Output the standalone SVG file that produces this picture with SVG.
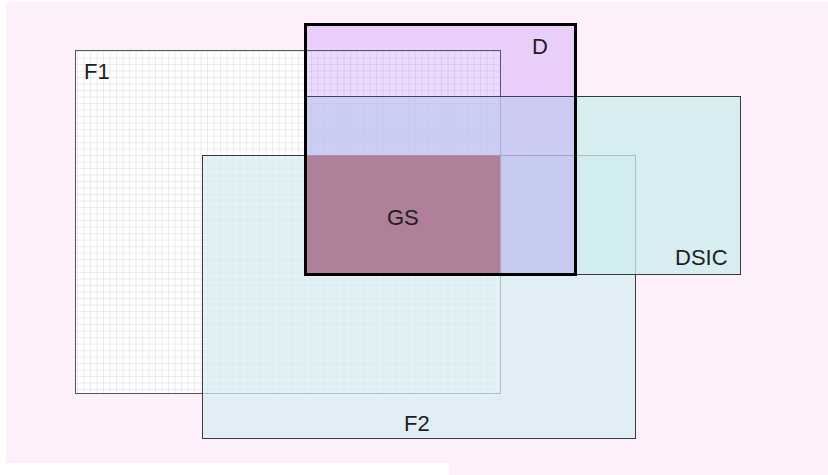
<svg xmlns="http://www.w3.org/2000/svg" width="828" height="475" viewBox="0 0 828 475">
  <style>
    .lbl { font-family: "Liberation Sans", Arial, sans-serif; font-size: 22px; fill: #1e1e1e; }
  </style>
  <defs>
    <!-- fine squared grid for F1 -->
    <pattern id="grid" width="6.5" height="6.5" patternUnits="userSpaceOnUse">
      <rect width="6.5" height="6.5" fill="#ffffff"/>
      <path d="M6.5 0 V6.5 M0 6.5 H6.5" stroke="#cfcfd8" stroke-width="0.8" fill="none"/>
    </pattern>
    <!-- dotted texture for DSIC -->
    <pattern id="dots" width="4" height="4" patternUnits="userSpaceOnUse">
      <rect width="4" height="4" fill="#c5ebeb"/>
      <circle cx="1" cy="1" r="0.8" fill="#dcf3f5"/>
      <circle cx="3" cy="3" r="0.8" fill="#dcf3f5"/>
    </pattern>
  </defs>

  <!-- page background -->
  <rect x="0" y="0" width="828" height="475" fill="#ffffff"/>
  <rect x="6" y="2" width="822" height="461" fill="#fdf0fb"/>
  <rect x="449" y="463" width="379" height="12" fill="#fdf0fb"/>

  <g id="F1">
    <rect x="75.5" y="50.5" width="425" height="343" fill="url(#grid)" stroke="#555555" stroke-width="1"/>
    <text class="lbl" x="84" y="79">F1</text>
  </g>

  <g id="F2">
    <rect x="202.5" y="155.5" width="433" height="283" fill="#d6edf2" fill-opacity="0.7" stroke="#3a3a3a" stroke-width="1"/>
  </g>

  <g id="DSIC">
    <rect x="305.5" y="96.5" width="435" height="178" fill="url(#dots)" fill-opacity="0.75" stroke="#3a3a3a" stroke-width="1"/>
  </g>

  <g id="D">
    <rect x="305.5" y="24.5" width="270" height="250" fill="#a046fa" fill-opacity="0.2"/>
  </g>

  <g id="GS">
    <rect x="305.5" y="155.5" width="195" height="119" fill="#b0809a"/>
  </g>

  <!-- outline of D on top -->
  <rect x="305.5" y="24.5" width="270" height="250" fill="none" stroke="#000000" stroke-width="3"/>

  <text class="lbl" x="532" y="54">D</text>
  <text class="lbl" x="387" y="225">GS</text>
  <text class="lbl" x="675" y="265">DSIC</text>
  <text class="lbl" x="404" y="431">F2</text>
</svg>
